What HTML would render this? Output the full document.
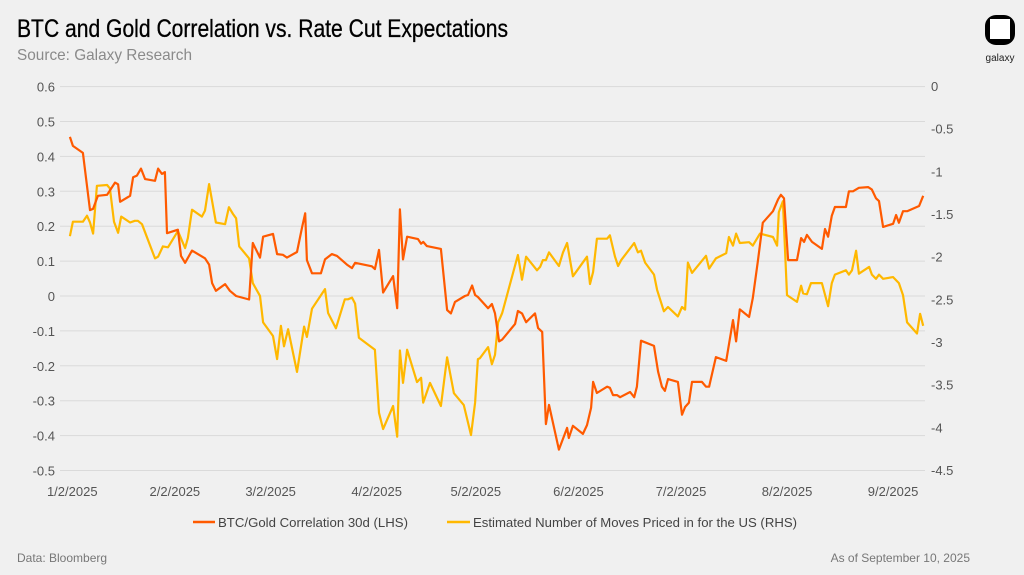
<!DOCTYPE html>
<html><head><meta charset="utf-8"><style>
html,body{margin:0;padding:0;background:#f0f0f0;}
svg{display:block;font-family:"Liberation Sans",sans-serif;}
</style></head><body>
<svg id="chart" width="1024" height="575" viewBox="0 0 1024 575">
<rect x="0" y="0" width="1024" height="575" fill="#f0f0f0"/>
<text x="17" y="37" font-size="25" fill="#000" stroke="#000" stroke-width="0.3" textLength="491" lengthAdjust="spacingAndGlyphs">BTC and Gold Correlation vs. Rate Cut Expectations</text>
<text x="17" y="60" font-size="16" fill="#8a8a8a" textLength="175" lengthAdjust="spacingAndGlyphs">Source: Galaxy Research</text>
<g>
<rect x="985" y="15" width="30" height="30" rx="11" fill="#000"/>
<rect x="990" y="19" width="20" height="20" fill="#fff"/>
<text x="1000" y="61" font-size="10" text-anchor="middle" fill="#222">galaxy</text>
</g>
<g id="grid"></g>
<g id="axes"></g>
<g id="series"></g>
<g>
<line x1="193" y1="522" x2="215" y2="522" stroke="#ff5a00" stroke-width="2.5"/>
<text x="218" y="527" font-size="13" fill="#444" textLength="190" lengthAdjust="spacingAndGlyphs">BTC/Gold Correlation 30d (LHS)</text>
<line x1="447" y1="522" x2="470" y2="522" stroke="#ffb800" stroke-width="2.5"/>
<text x="473" y="527" font-size="13" fill="#444" textLength="324" lengthAdjust="spacingAndGlyphs">Estimated Number of Moves Priced in for the US (RHS)</text>
</g>
<text x="17" y="562" font-size="12" fill="#777">Data: Bloomberg</text>
<text x="970" y="562" font-size="12" fill="#777" text-anchor="end">As of September 10, 2025</text>
</svg>
<script>
const xTickDays = [3,33,61,92,121,151,181,212,243];
const xTickLabels = ["1/2/2025","2/2/2025","3/2/2025","4/2/2025","5/2/2025","6/2/2025","7/2/2025","8/2/2025","9/2/2025"];
const leftTicks = [0.6,0.5,0.4,0.3,0.2,0.1,0,-0.1,-0.2,-0.3,-0.4,-0.5];
const leftTickLabels = ["0.6","0.5","0.4","0.3","0.2","0.1","0","-0.1","-0.2","-0.3","-0.4","-0.5"];
const rightTicks = [0,-0.5,-1,-1.5,-2,-2.5,-3,-3.5,-4,-4.5];
const rightTickLabels = ["0","-0.5","-1","-1.5","-2","-2.5","-3","-3.5","-4","-4.5"];

const corrDays = [2.3,3.2,6.1,8.2,9.1,10.5,13.2,15.5,16.4,17,19.9,20.8,21.9,23.1,24.3,27.2,28.1,29.2,30.1,30.7,33.9,34.8,36,38,41.8,43,43.9,45,47.7,49.1,50.9,54.7,55.8,57.9,58.8,61.7,62.9,64.6,65.8,68.7,70.2,71.1,71.6,73.1,75.7,76.9,78.9,80.4,83.3,84.8,85.7,90.6,91.5,92.7,93.9,96.8,98,98.8,99.7,100.9,104.1,105,105.6,106.7,110.8,112.6,113.7,114.9,117.8,118.7,119.9,120.8,121.6,124.6,125.7,126.6,127.8,128.7,132.5,133.3,134.5,135.7,138.3,139.2,140.4,141.5,142.4,145.3,147.7,148.2,149.4,152.3,153.5,154.7,155.3,156.4,159.4,160.2,161.1,162.3,163.2,166.1,167.3,168.1,169.3,173.1,174.3,175.4,176.3,177.2,180.1,181.3,182.2,183.3,184.2,187.1,188.3,189.2,191.2,194.2,196.2,197.1,198.2,200.9,202,203.5,204.9,207.9,209.4,210.2,211.1,212.3,214.9,216.1,217,217.8,219.3,222.2,223.1,224,225.1,226,229.2,230.1,231.3,233,235.7,236.8,238,238.9,240.1,243,243.9,244.7,245.9,247.1,250.6,251.8];
const corrValues = [0.456,0.43,0.41,0.246,0.25,0.287,0.29,0.325,0.32,0.27,0.287,0.34,0.345,0.365,0.335,0.33,0.365,0.35,0.355,0.18,0.19,0.115,0.095,0.13,0.108,0.09,0.037,0.015,0.034,0.015,0.0,-0.01,0.152,0.11,0.17,0.178,0.12,0.118,0.11,0.126,0.197,0.237,0.103,0.065,0.065,0.105,0.12,0.115,0.09,0.08,0.095,0.085,0.077,0.132,0.01,0.057,-0.035,0.248,0.105,0.17,0.163,0.15,0.155,0.143,0.135,-0.04,-0.05,-0.017,0.0,0.003,0.03,0.003,-0.003,-0.035,-0.023,-0.05,-0.13,-0.125,-0.08,-0.043,-0.05,-0.075,-0.05,-0.092,-0.103,-0.367,-0.312,-0.44,-0.378,-0.407,-0.372,-0.395,-0.37,-0.32,-0.246,-0.278,-0.26,-0.263,-0.284,-0.284,-0.29,-0.275,-0.29,-0.26,-0.128,-0.143,-0.217,-0.26,-0.272,-0.238,-0.246,-0.34,-0.318,-0.306,-0.246,-0.246,-0.26,-0.26,-0.175,-0.186,-0.069,-0.13,-0.038,-0.06,-0.006,0.103,0.21,0.243,0.277,0.29,0.28,0.103,0.103,0.166,0.155,0.175,0.155,0.135,0.192,0.17,0.23,0.255,0.255,0.3,0.3,0.31,0.312,0.305,0.28,0.272,0.198,0.207,0.232,0.21,0.243,0.243,0.258,0.287];

const movesDays = [2.3,3.2,6.1,7.3,8.2,9.1,10.2,13.2,14,15.2,16.4,17.3,19.9,21.3,22.2,23.4,27.2,28.1,29.5,31,33.9,36,36.8,38,40.9,41.8,43,45,47.7,48.8,50,50.9,51.8,54.7,55.8,57.9,58.8,61.7,62.9,64,64.9,66.1,68.7,70.8,71.6,73.1,76.9,77.8,80.1,82.7,83.6,84.8,85.7,86.8,91.5,92.7,93.9,96.8,98,98.8,99.7,100.9,103.8,105,105.6,107.6,110.8,112.6,114.6,117.5,119.6,120.8,121.6,122.2,124.6,125.7,126.6,127.5,128.7,133.3,134.5,135.7,138.9,139.8,140.6,141.5,142.4,145.3,146.5,147.7,149.4,153.5,154.4,155.3,156.4,159.4,160.2,161.7,162.6,163.5,167.3,168.4,169.3,170.5,173.1,174,176,177.2,180.1,181.3,182.2,183,184.2,188.3,189.2,191.2,194.2,195,196.2,197.1,198.2,200.9,202,204.1,207.9,209.1,209.6,210.8,212,214.9,216.1,216.7,217.8,219,222.2,224,225.1,226,229.2,230.1,231,232.2,233,236,236.8,238,238.9,240.1,243,244.7,245.9,247.1,250,250.9,251.8];
const movesValues = [-1.76,-1.59,-1.59,-1.52,-1.6,-1.73,-1.17,-1.16,-1.2,-1.59,-1.72,-1.53,-1.6,-1.58,-1.58,-1.62,-2.02,-2.0,-1.88,-1.89,-1.7,-1.9,-1.78,-1.45,-1.53,-1.46,-1.15,-1.6,-1.62,-1.42,-1.5,-1.55,-1.88,-2.02,-2.31,-2.46,-2.77,-2.93,-3.2,-2.81,-3.05,-2.85,-3.35,-2.82,-2.94,-2.61,-2.38,-2.66,-2.84,-2.5,-2.5,-2.48,-2.55,-2.95,-3.09,-3.83,-4.02,-3.75,-4.11,-3.1,-3.48,-3.09,-3.47,-3.42,-3.71,-3.48,-3.75,-3.18,-3.6,-3.74,-4.09,-3.71,-3.2,-3.19,-3.06,-3.26,-3.15,-2.77,-2.66,-1.98,-2.27,-2.0,-2.16,-2.12,-2.04,-2.04,-1.95,-2.11,-1.95,-1.84,-2.23,-2.0,-2.32,-2.18,-1.79,-1.79,-1.75,-2.0,-2.11,-2.04,-1.84,-1.95,-1.93,-2.07,-2.21,-2.39,-2.64,-2.59,-2.7,-2.59,-2.62,-2.07,-2.19,-1.99,-2.14,-2.02,-1.96,-1.77,-1.87,-1.73,-1.84,-1.83,-1.87,-1.73,-1.77,-1.87,-1.48,-1.35,-2.45,-2.53,-2.34,-2.43,-2.44,-2.31,-2.31,-2.58,-2.31,-2.21,-2.16,-2.21,-2.16,-1.93,-2.2,-2.12,-2.21,-2.26,-2.21,-2.26,-2.24,-2.31,-2.45,-2.77,-2.9,-2.67,-2.81];

const NS = "http://www.w3.org/2000/svg";
function xScale(d){ return 62 + d*3.42; }
function yLeft(v){ return 296 - v*349; }
function yRight(v){ return 86 - v*85.33; }
function mk(tag, attrs, parent){ const e=document.createElementNS(NS,tag); for(const k in attrs) e.setAttribute(k, attrs[k]); parent.appendChild(e); return e; }

const grid = document.getElementById('grid');
const axes = document.getElementById('axes');
leftTicks.forEach((v,i)=>{
  const g = mk('line',{x1:60,x2:925,y1:yLeft(v),y2:yLeft(v),stroke:'#dadada','stroke-width':1},grid);
  
  
  const t = mk('text',{x:55,y:yLeft(v)+5,'font-size':13,fill:'#555','text-anchor':'end'},axes);
  t.textContent = leftTickLabels[i];
  
  
});
rightTicks.forEach((v,i)=>{
  const t = mk('text',{x:931,y:yRight(v)+5,'font-size':13,fill:'#555'},axes);
  t.textContent = rightTickLabels[i];
  
  
});
xTickDays.forEach((d,i)=>{
  const t = mk('text',{x:xScale(d),y:496,'font-size':13,fill:'#555','text-anchor':'middle'},axes);
  t.textContent = xTickLabels[i];
  
  
});

const series = document.getElementById('series');
const pm = movesDays.map((d,i)=>xScale(d).toFixed(1)+','+yRight(movesValues[i]).toFixed(1)).join(' ');
const l2 = mk('polyline',{points:pm,fill:'none',stroke:'#ffb800','stroke-width':2.2,'stroke-linejoin':'round'},series);


const pc = corrDays.map((d,i)=>xScale(d).toFixed(1)+','+yLeft(corrValues[i]).toFixed(1)).join(' ');
const l1 = mk('polyline',{points:pc,fill:'none',stroke:'#ff5a00','stroke-width':2.2,'stroke-linejoin':'round'},series);


</script>
</body></html>
